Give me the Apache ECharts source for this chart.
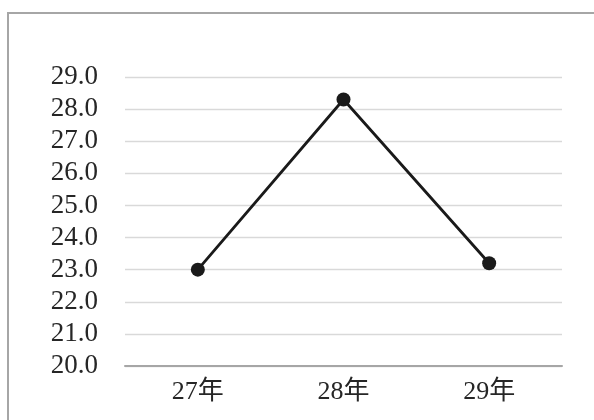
<!DOCTYPE html>
<html>
<head>
<meta charset="utf-8">
<script src="https://cdn.jsdelivr.net/npm/echarts@6/dist/echarts.min.js"></script>
<style>
html,body{margin:0;padding:0;background:#fff;}
#c{width:594px;height:420px;}
</style>
</head>
<body>
<div id="c"></div>
<script>
const categories = ['27年', '28年', '29年'];
const values = [23.0, 28.3, 23.2];
const yMin = 20, yMax = 29, yStep = 1;

const font = '"Liberation Serif", "DejaVu Serif", "Noto Sans CJK JP", serif';
const chart = echarts.init(document.getElementById('c'), null, {renderer: 'canvas'});
chart.setOption({
  animation: false,
  backgroundColor: '#ffffff',
  graphic: [{
    type: 'rect',
    shape: {x: 8, y: 13, width: 600, height: 420},
    style: {fill: 'none', stroke: '#a6a6a6', lineWidth: 2},
    silent: true
  }],
  grid: {left: 125, right: 32, top: 77, bottom: 54},
  xAxis: {
    type: 'category',
    data: categories,
    boundaryGap: true,
    axisLine: {show: true, lineStyle: {color: '#a6a6a6', width: 2}},
    axisTick: {show: false},
    axisLabel: {color: '#262626', fontFamily: font, fontSize: 26, margin: 13}
  },
  yAxis: {
    type: 'value',
    min: yMin, max: yMax, interval: yStep,
    axisLine: {show: false},
    axisTick: {show: false},
    splitLine: {lineStyle: {color: '#d9d9d9', width: 1.3}},
    axisLabel: {color: '#262626', fontFamily: font, fontSize: 27, margin: 27,
      formatter: v => v.toFixed(1)}
  },
  series: [{
    type: 'line',
    data: values,
    symbol: 'circle',
    symbolSize: 14,
    lineStyle: {color: '#1a1a1a', width: 2.8},
    itemStyle: {color: '#1a1a1a'}
  }]
});
</script>
</body>
</html>
